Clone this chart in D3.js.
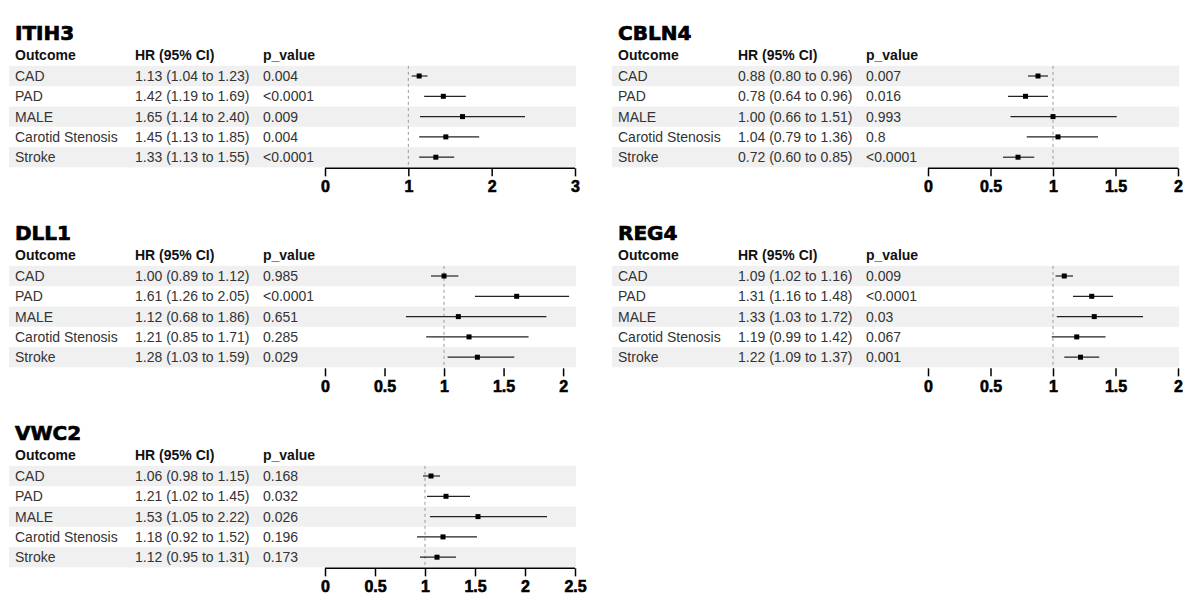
<!DOCTYPE html>
<html>
<head>
<meta charset="utf-8">
<script src="https://cdn.jsdelivr.net/npm/d3@7"></script>
<style>
  body { margin: 0; background: #fff; }
  svg { display: block; }
  .title { font-family: "DejaVu Sans", sans-serif; font-weight: bold; font-size: 20px; fill: #000; stroke: #000; stroke-width: 0.7px; }
  .head { font-family: "Liberation Sans", Arial, sans-serif; font-weight: bold; font-size: 14px; fill: #111; }
  .cell { font-family: "Liberation Sans", Arial, sans-serif; font-size: 14px; fill: #333; }
  .tick text { font-family: "Liberation Sans", Arial, sans-serif; font-weight: bold; font-size: 16px; fill: #000; stroke: #000; stroke-width: 0.6px; }
</style>
</head>
<body>
<div id="chart"></div>
<script>
const outcomes = ["CAD", "PAD", "MALE", "Carotid Stenosis", "Stroke"];
const proteins = ["ITIH3", "CBLN4", "DLL1", "REG4", "VWC2"];

const hrITIH3 = [1.13, 1.42, 1.65, 1.45, 1.33];
const loITIH3 = [1.04, 1.19, 1.14, 1.13, 1.13];
const hiITIH3 = [1.23, 1.69, 2.40, 1.85, 1.55];
const pITIH3 = ["0.004", "<0.0001", "0.009", "0.004", "<0.0001"];

const hrCBLN4 = [0.88, 0.78, 1.00, 1.04, 0.72];
const loCBLN4 = [0.80, 0.64, 0.66, 0.79, 0.60];
const hiCBLN4 = [0.96, 0.96, 1.51, 1.36, 0.85];
const pCBLN4 = ["0.007", "0.016", "0.993", "0.8", "<0.0001"];

const hrDLL1 = [1.00, 1.61, 1.12, 1.21, 1.28];
const loDLL1 = [0.89, 1.26, 0.68, 0.85, 1.03];
const hiDLL1 = [1.12, 2.05, 1.86, 1.71, 1.59];
const pDLL1 = ["0.985", "<0.0001", "0.651", "0.285", "0.029"];

const hrREG4 = [1.09, 1.31, 1.33, 1.19, 1.22];
const loREG4 = [1.02, 1.16, 1.03, 0.99, 1.09];
const hiREG4 = [1.16, 1.48, 1.72, 1.42, 1.37];
const pREG4 = ["0.009", "<0.0001", "0.03", "0.067", "0.001"];

const hrVWC2 = [1.06, 1.21, 1.53, 1.18, 1.12];
const loVWC2 = [0.98, 1.02, 1.05, 0.92, 0.95];
const hiVWC2 = [1.15, 1.45, 2.22, 1.52, 1.31];
const pVWC2 = ["0.168", "0.032", "0.026", "0.196", "0.173"];

// x axis extent and ticks for each panel
const axisMax = [3, 2, 2.1, 2, 2.5];
const axisTicks = [
    [0, 1, 2, 3],
    [0, 0.5, 1, 1.5, 2],
    [0, 0.5, 1, 1.5, 2],
    [0, 0.5, 1, 1.5, 2],
    [0, 0.5, 1, 1.5, 2, 2.5]
];

const panelData = [
    [hrITIH3, loITIH3, hiITIH3, pITIH3],
    [hrCBLN4, loCBLN4, hiCBLN4, pCBLN4],
    [hrDLL1, loDLL1, hiDLL1, pDLL1],
    [hrREG4, loREG4, hiREG4, pREG4],
    [hrVWC2, loVWC2, hiVWC2, pVWC2]
];

// the axis baseline is lost in these panels of the source picture
const noAxisLine = ["DLL1", "REG4"];

const width = 1200, height = 614;
const panelW = 603, panelH = 200;
const rowH = 20.3, firstRow = 76;
const plotLeft = 325, plotRight = 575;

const svg = d3.select("#chart").append("svg")
    .attr("width", width)
    .attr("height", height);

svg.append("rect").attr("width", width).attr("height", height).attr("fill", "#fff");

proteins.forEach((name, k) => {
    const [hr, lo, hi, pv] = panelData[k];
    const ox = (k % 2) * panelW;
    const oy = Math.floor(k / 2) * panelH;
    const g = svg.append("g").attr("transform", `translate(${ox},${oy})`);

    const plotEnd = plotLeft + (plotRight - plotLeft) * (Math.max(...axisTicks[k]) / axisMax[k]);
    const x = d3.scaleLinear().domain([0, axisMax[k]]).range([plotLeft, plotRight]);
    const y = d3.scaleBand().domain(outcomes).range([firstRow - rowH / 2, firstRow - rowH / 2 + rowH * outcomes.length]);

    const rows = outcomes.map((o, i) => ({ o, hr: hr[i], lo: lo[i], hi: hi[i], p: pv[i], i }));

    g.selectAll(".band")
        .data(rows.filter(d => d.i % 2 === 0))
        .enter().append("rect")
        .attr("class", "band")
        .attr("x", 9)
        .attr("y", d => y(d.o))
        .attr("width", plotRight + 1 - 9)
        .attr("height", y.bandwidth())
        .attr("fill", "#f0f0f0");

    g.append("text").attr("class", "title").attr("x", 15).attr("y", 40).text(name);

    const cols = [15, 135, 263];
    ["Outcome", "HR (95% CI)", "p_value"].forEach((h, j) => {
        g.append("text").attr("class", "head").attr("x", cols[j]).attr("y", 60).text(h);
    });

    const cy = d => y(d.o) + y.bandwidth() / 2;
    const fmt = d3.format(".2f");

    g.selectAll(".c0").data(rows).enter().append("text")
        .attr("class", "cell").attr("x", cols[0]).attr("y", d => cy(d) + 5).text(d => d.o);
    g.selectAll(".c1").data(rows).enter().append("text")
        .attr("class", "cell").attr("x", cols[1]).attr("y", d => cy(d) + 5)
        .text(d => `${fmt(d.hr)} (${fmt(d.lo)} to ${fmt(d.hi)})`);
    g.selectAll(".c2").data(rows).enter().append("text")
        .attr("class", "cell").attr("x", cols[2]).attr("y", d => cy(d) + 5).text(d => d.p);

    const axisY = y.range()[1] + 1;

    g.append("line")
        .attr("x1", x(1)).attr("x2", x(1))
        .attr("y1", y.range()[0]).attr("y2", axisY)
        .attr("stroke", "#999")
        .attr("stroke-width", 1)
        .attr("stroke-dasharray", "3,3");

    g.selectAll(".ci").data(rows).enter().append("line")
        .attr("x1", d => x(d.lo)).attr("x2", d => x(d.hi))
        .attr("y1", cy).attr("y2", cy)
        .attr("stroke", "#222")
        .attr("stroke-width", 1.2);

    g.selectAll(".pt").data(rows).enter().append("rect")
        .attr("x", d => x(d.hr) - 2.5)
        .attr("y", d => cy(d) - 2.5)
        .attr("width", 5).attr("height", 5)
        .attr("fill", "#000");

    const axis = d3.axisBottom(x)
        .tickValues(axisTicks[k])
        .tickFormat(d => String(d))
        .tickSizeOuter(0)
        .tickSize(8)
        .tickPadding(4);

    const ax = g.append("g").attr("transform", `translate(0,${axisY})`).call(axis);
    ax.select(".domain")
        .attr("d", `M${plotLeft},0H${plotEnd}`)
        .attr("stroke", "#000")
        .attr("stroke-width", 1.5)
        .attr("display", noAxisLine.includes(name) ? "none" : null);
    ax.selectAll(".tick line").attr("stroke", "#000").attr("stroke-width", 1.5);
});
</script>
</body>
</html>
